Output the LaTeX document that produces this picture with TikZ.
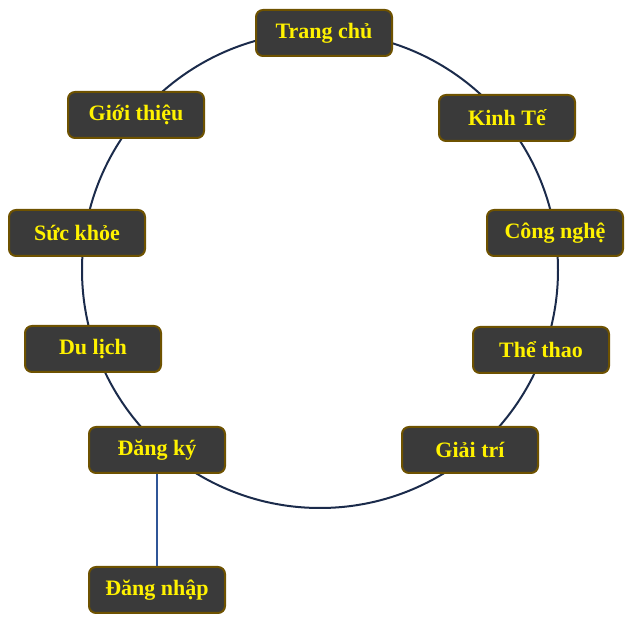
\documentclass[tikz,border=0pt]{standalone}
\usepackage{fontspec}
\setmainfont{Liberation Serif}
\usepackage{tikz}

\definecolor{boxfill}{HTML}{3A3A3A}
\definecolor{boxline}{HTML}{6E5200}
\definecolor{ringline}{HTML}{1B2B4B}
\definecolor{linkline}{HTML}{2F5597}

\tikzset{
	menubox/.style={draw=boxline, line width=2pt, fill=boxfill, rounded corners=7pt,
		minimum width=136pt, minimum height=46pt, inner sep=0pt,
		text=yellow, font=\fontsize{22}{26}\selectfont\bfseries},
	ring/.style={draw=ringline, line width=2pt},
	link/.style={draw=linkline, line width=2pt}
}

\begin{document}
\begin{tikzpicture}[x=1pt, y=-1pt]
	
	\useasboundingbox (0,0) rectangle (633,620);
	\coordinate (o) at (320,270);
	\draw[ring] (o) circle[radius=238pt];
	
	\node[menubox] (home) at (324,33) {Trang chủ};
	\node[menubox] (econ) at (507,118) {Kinh Tế};
	\node[menubox] (tech) at (555,233) {Công nghệ};
	\node[menubox] (sport) at (541,350) {Thể thao};
	\node[menubox] (fun) at (470,450) {Giải trí};
	\node[menubox] (reg) at (157,450) {Đăng ký};
	\node[menubox] (travel) at (93,349) {Du lịch};
	\node[menubox] (health) at (77,233) {Sức khỏe};
	\node[menubox] (about) at (136,115) {Giới thiệu};
	\node[menubox] (login) at (157,590) {Đăng nhập};
	
	\draw[link] (reg) -- (login);
	
\end{tikzpicture}
\end{document}
